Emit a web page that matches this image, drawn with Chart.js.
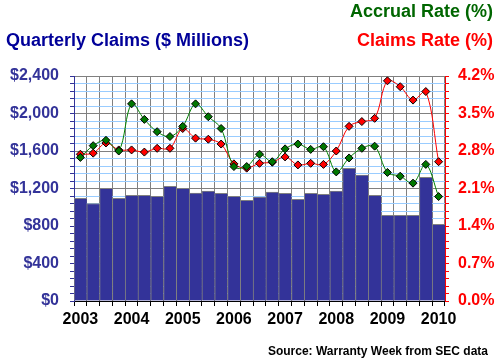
<!DOCTYPE html>
<html>
<head>
<meta charset="utf-8">
<script src="https://cdn.jsdelivr.net/npm/chart.js@4"></script>
<style>
body { margin: 0; background: #fff; }
#marco { position: relative; width: 500px; height: 362px; font-family: "Liberation Sans", Arial, sans-serif; font-weight: bold; }
#grafica { position: absolute; left: 0; top: 0; }
.texto { position: absolute; font-size: 18px; line-height: 18px; white-space: nowrap; }
</style>
</head>
<body>
<div id="marco">
  <canvas id="grafica" width="500" height="362"></canvas>
  <div class="texto" style="left:6px;top:31px;color:#000099">Quarterly Claims ($ Millions)</div>
  <div class="texto" style="right:7px;top:2px;color:#006600">Accrual Rate (%)</div>
  <div class="texto" style="right:7px;top:31px;color:#ff0000">Claims Rate (%)</div>
  <div class="texto" style="right:12px;top:345px;font-size:12px;line-height:12px;color:#000">Source: Warranty Week from SEC data</div>
</div>
<script>
// trimestres de 2003 Q1 a 2010 Q1
const trimestres = [
  '2003 Q1', '2003 Q2', '2003 Q3', '2003 Q4',
  '2004 Q1', '2004 Q2', '2004 Q3', '2004 Q4',
  '2005 Q1', '2005 Q2', '2005 Q3', '2005 Q4',
  '2006 Q1', '2006 Q2', '2006 Q3', '2006 Q4',
  '2007 Q1', '2007 Q2', '2007 Q3', '2007 Q4',
  '2008 Q1', '2008 Q2', '2008 Q3', '2008 Q4',
  '2009 Q1', '2009 Q2', '2009 Q3', '2009 Q4',
  '2010 Q1'
];
const anios = ['2003', '2004', '2005', '2006', '2007', '2008', '2009', '2010'];

// reclamaciones trimestrales ($ millones)
const reclamaciones = [1095, 1040, 1202, 1095, 1127, 1127, 1116, 1223, 1202, 1152, 1173, 1148, 1116, 1074, 1109,
  1163, 1148, 1084, 1148, 1138, 1173, 1415, 1344, 1127, 914, 914, 914, 1319, 818];
// tasa de reclamaciones (%)
const tasaReclamos = [2.74, 2.76, 2.95, 2.82, 2.82, 2.78, 2.85, 2.85, 3.22, 3.04, 3.02, 2.93, 2.56, 2.48, 2.57,
  2.59, 2.69, 2.54, 2.57, 2.55, 2.80, 3.26, 3.35, 3.41, 4.11, 4.00, 3.75, 3.91, 2.60];
// tasa de provision (%)
const tasaProvision = [2.68, 2.90, 3.00, 2.80, 3.68, 3.39, 3.16, 3.07, 3.26, 3.68, 3.44, 3.22, 2.51, 2.51, 2.74,
  2.60, 2.84, 2.93, 2.83, 2.88, 2.41, 2.67, 2.85, 2.89, 2.40, 2.33, 2.20, 2.55, 1.95];

const fuente = { family: 'Liberation Sans', size: 16, weight: 'bold' };

new Chart(document.getElementById('grafica').getContext('2d'), {
  data: {
    labels: trimestres,
    datasets: [
      {
        type: 'line',
        label: 'Accrual Rate (%)',
        data: tasaProvision,
        yAxisID: 'y1',
        order: 0,
        borderColor: '#008000',
        borderWidth: 1,
        tension: 0.35,
        pointStyle: 'rectRot',
        pointRadius: 4,
        pointBackgroundColor: '#007700',
        pointBorderColor: '#000',
        pointBorderWidth: 1
      },
      {
        type: 'line',
        label: 'Claims Rate (%)',
        data: tasaReclamos,
        yAxisID: 'y1',
        order: 1,
        borderColor: '#ff0000',
        borderWidth: 1,
        tension: 0.35,
        pointStyle: 'rectRot',
        pointRadius: 4,
        pointBackgroundColor: '#ff0000',
        pointBorderColor: '#000',
        pointBorderWidth: 1
      },
      {
        type: 'bar',
        label: 'Quarterly Claims',
        data: reclamaciones,
        yAxisID: 'y',
        order: 2,
        backgroundColor: '#333399',
        borderColor: '#808080',
        borderWidth: { top: 1, left: 1, right: 0, bottom: 0 },
        borderSkipped: false,
        barPercentage: 1,
        categoryPercentage: 1
      }
    ]
  },
  options: {
    responsive: false,
    animation: false,
    layout: { padding: { top: 76, left: 0, right: 0, bottom: 0 } },
    plugins: { legend: { display: false }, tooltip: { enabled: false } },
    scales: {
      x: {
        offset: true,
        afterFit: s => { s.height = 61; },
        grid: { offset: true, color: '#808080', tickColor: '#000', tickLength: 5 },
        border: { color: '#000' },
        ticks: {
          autoSkip: false,
          maxRotation: 0,
          padding: 4,
          color: '#000',
          font: fuente,
          callback: (v, i) => i % 4 === 0 ? anios[i / 4] : ''
        }
      },
      y: {
        position: 'left',
        min: 0,
        max: 2400,
        afterFit: s => { s.width = 74; },
        grid: {
          color: c => c.index % 5 === 0 ? '#808080' : '#99ccff',
          tickColor: '#333399',
          tickLength: 4
        },
        border: { color: '#333399' },
        ticks: {
          stepSize: 80,
          autoSkip: false,
          padding: 11,
          color: '#333399',
          font: fuente,
          callback: (v, i) => i % 5 === 0 ? '$' + v.toLocaleString('en-US') : ''
        }
      },
      y1: {
        position: 'right',
        min: 0,
        max: 4.2,
        afterFit: s => { s.width = 55; },
        grid: { drawOnChartArea: false, tickColor: '#ff0000', tickLength: 4 },
        border: { color: '#ff0000' },
        ticks: {
          stepSize: 0.14,
          autoSkip: false,
          padding: 9,
          color: '#ff0000',
          font: fuente,
          callback: (v, i) => i % 5 === 0 ? v.toFixed(1) + '%' : ''
        }
      }
    }
  }
});
</script>
</body>
</html>
